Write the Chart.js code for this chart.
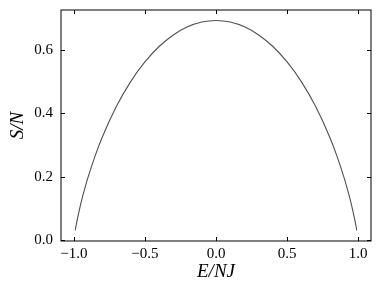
<!DOCTYPE html>
<html>
<head>
<meta charset="utf-8">
<script src="https://cdn.jsdelivr.net/npm/chart.js@4.4.1/dist/chart.umd.min.js"></script>
<style>
  html, body { margin: 0; padding: 0; background: #fff; }
  #wrap { width: 380px; height: 297px; }
</style>
</head>
<body>
<div id="wrap"><canvas id="entropyChart" width="380" height="297"></canvas></div>
<script>
// energy per spin E/NJ
const energy = [-0.99, -0.98, -0.96, -0.94, -0.92, -0.9, -0.85, -0.8, -0.7, -0.6, -0.5, -0.4, -0.3, -0.2, -0.1, 0,
                0.1, 0.2, 0.3, 0.4, 0.5, 0.6, 0.7, 0.8, 0.85, 0.9, 0.92, 0.94, 0.96, 0.98, 0.99];
// entropy per spin S/N
const entropy = [0.0315, 0.056, 0.098, 0.1347, 0.1679, 0.1985, 0.2664, 0.3251, 0.4227, 0.5004, 0.5623, 0.6109, 0.6474, 0.673, 0.6881, 0.6931,
                 0.6881, 0.673, 0.6474, 0.6109, 0.5623, 0.5004, 0.4227, 0.3251, 0.2664, 0.1985, 0.1679, 0.1347, 0.098, 0.056, 0.0315];
const xTicks = [-1.0, -0.5, 0.0, 0.5, 1.0];
const yTicks = [0.0, 0.2, 0.4, 0.6];

const fontFamily = "'Liberation Serif', 'DejaVu Serif', serif";

function fmt(v) {
    const s = Math.abs(v).toFixed(1);
    return v < 0 ? '\u2212' + s : s;
}

// matplotlib style: frame + inward ticks on all four sides
const frameTicks = {
    id: 'frameTicks',
    afterDraw(chart) {
        const ctx = chart.ctx;
        const a = chart.chartArea;
        const xs = chart.scales.x, ys = chart.scales.y;
        const len = 4;
        ctx.save();
        ctx.strokeStyle = '#000';
        ctx.lineWidth = 1;
        ctx.strokeRect(a.left, a.top, a.right - a.left, a.bottom - a.top);
        ctx.beginPath();
        xTicks.forEach(v => {
            const px = Math.round(xs.getPixelForValue(v)) + 0.5;
            ctx.moveTo(px, a.bottom); ctx.lineTo(px, a.bottom - len);
            ctx.moveTo(px, a.top); ctx.lineTo(px, a.top + len);
        });
        yTicks.forEach(v => {
            const py = Math.round(ys.getPixelForValue(v)) + 0.5;
            ctx.moveTo(a.left, py); ctx.lineTo(a.left + len, py);
            ctx.moveTo(a.right, py); ctx.lineTo(a.right - len, py);
        });
        ctx.stroke();
        ctx.restore();
    }
};

new Chart(document.getElementById('entropyChart').getContext('2d'), {
    type: 'line',
    data: {
        datasets: [{
            data: energy.map((e, i) => ({ x: e, y: entropy[i] })),
            borderColor: '#505050',
            borderWidth: 1.1,
            pointRadius: 0,
            fill: false,
            cubicInterpolationMode: 'monotone'
        }]
    },
    options: {
        responsive: false,
        animation: false,
        layout: { padding: { left: 0, right: 9, top: 10, bottom: 0 } },
        plugins: { legend: { display: false }, tooltip: { enabled: false } },
        scales: {
            x: {
                type: 'linear',
                min: -1.09,
                max: 1.09,
                afterBuildTicks: s => { s.ticks = xTicks.map(v => ({ value: v })); },
                afterFit: s => { s.height = 56; s.paddingLeft = 0; s.paddingRight = 0; },
                grid: { display: false, drawTicks: false },
                border: { display: false },
                ticks: {
                    callback: v => fmt(v),
                    color: '#000',
                    padding: 4,
                    maxRotation: 0,
                    font: { family: fontFamily, size: 15 }
                },
                title: {
                    display: true,
                    text: 'E/NJ',
                    color: '#000',
                    padding: { top: 0, bottom: 14 },
                    font: { family: fontFamily, size: 19, style: 'italic' }
                }
            },
            y: {
                type: 'linear',
                min: -0.002,
                max: 0.726,
                afterBuildTicks: s => { s.ticks = yTicks.map(v => ({ value: v })); },
                afterFit: s => { s.width = 61; s.paddingTop = 0; s.paddingBottom = 0; },
                grid: { display: false, drawTicks: false },
                border: { display: false },
                ticks: {
                    callback: v => fmt(v),
                    color: '#000',
                    padding: 8,
                    font: { family: fontFamily, size: 15 }
                },
                title: {
                    display: true,
                    text: 'S/N',
                    color: '#000',
                    padding: { top: 7, bottom: 0 },
                    font: { family: fontFamily, size: 19, style: 'italic' }
                }
            }
        }
    },
    plugins: [frameTicks]
});
</script>
</body>
</html>
